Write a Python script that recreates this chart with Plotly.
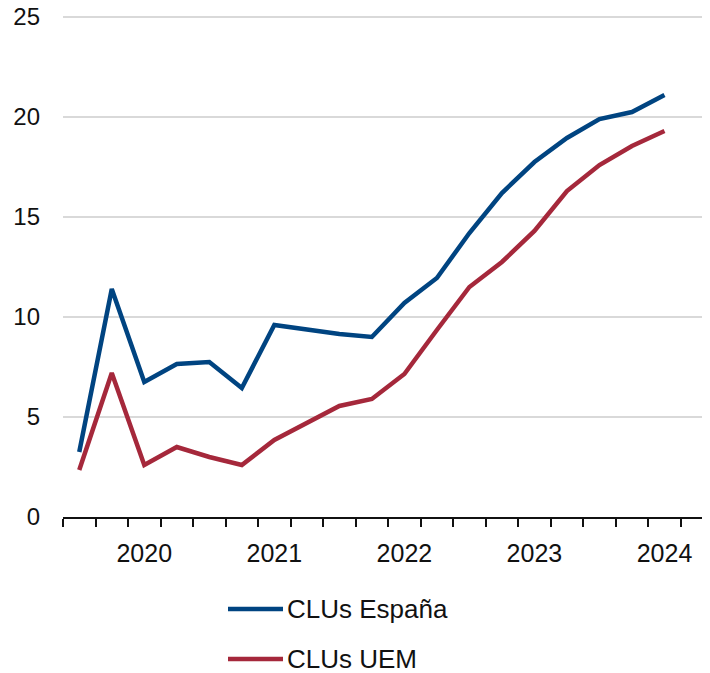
import plotly.graph_objects as go

# Trimestres 2019T3 - 2024T1
trimestres = ["2019T3", "2019T4", "2020T1", "2020T2", "2020T3", "2020T4",
              "2021T1", "2021T2", "2021T3", "2021T4", "2022T1", "2022T2",
              "2022T3", "2022T4", "2023T1", "2023T2", "2023T3", "2023T4", "2024T1"]
clus_espana = [3.25, 11.4, 6.75, 7.65, 7.75, 6.45, 9.6, 9.35, 9.15, 9.0,
               10.7, 11.95, 14.2, 16.2, 17.75, 18.95, 19.9, 20.25, 21.1]
clus_uem = [2.35, 7.2, 2.6, 3.5, 3.0, 2.6, 3.85, 4.7, 5.55, 5.9,
            7.15, 9.35, 11.5, 12.75, 14.3, 16.3, 17.6, 18.55, 19.3]
anios = ["2020", "2021", "2022", "2023", "2024"]
y_ticks = [0, 5, 10, 15, 20, 25]

AZUL = "#004481"
ROJO = "#a5283b"
FUENTE = "Liberation Sans, Arial, Helvetica, sans-serif"

x = list(range(len(trimestres)))
pos_anios = [trimestres.index(a + "T1") for a in anios]

fig = go.Figure()
fig.add_trace(go.Scatter(x=x, y=clus_espana, mode="lines", name="CLUs España",
                         line=dict(color=AZUL, width=4.5), showlegend=False))
fig.add_trace(go.Scatter(x=x, y=clus_uem, mode="lines", name="CLUs UEM",
                         line=dict(color=ROJO, width=4.5), showlegend=False))

# la página añade 8 px de margen al cuerpo: se compensa aquí
ALTO_PLOT = 503
fig.update_layout(
    width=702, height=665,
    margin=dict(l=55, r=0, t=665 - 156 - ALTO_PLOT, b=156),
    plot_bgcolor="white", paper_bgcolor="white",
    font=dict(family=FUENTE, size=25, color="#111111"),
)
fig.update_xaxes(
    range=[-0.5, 19.4],
    tickmode="array", tickvals=pos_anios, ticktext=anios,
    ticks="", showgrid=False, zeroline=False,
    showline=True, linecolor="#111111", linewidth=1.5,
    ticklabelstandoff=13, automargin=False,
    minor=dict(tickmode="linear", tick0=-0.5, dtick=1, ticks="outside",
               ticklen=8, tickwidth=1.5, tickcolor="#111111", showgrid=False),
)
fig.update_yaxes(
    range=[0, 25.15], tickvals=y_ticks, tickfont=dict(size=24),
    showgrid=True, gridcolor="#d9d9d9", gridwidth=1.5,
    zeroline=False, showline=False, ticks="",
    ticklabelstandoff=22, ticklabeloverflow="allow", automargin=False,
)

# leyenda (posiciones en coordenadas de papel respecto al área de trazado)
for i, (nombre, color) in enumerate([("CLUs España", AZUL), ("CLUs UEM", ROJO)]):
    yp = (517 - (609 + 50 * i)) / ALTO_PLOT
    fig.add_shape(type="line", xref="paper", yref="paper",
                  x0=(228 - 63) / 647, x1=(283 - 63) / 647, y0=yp, y1=yp,
                  line=dict(color=color, width=4.5))
    fig.add_annotation(xref="paper", yref="paper", x=(285 - 63) / 647, y=yp,
                       text=nombre, showarrow=False,
                       xanchor="left", yanchor="middle",
                       font=dict(family=FUENTE, size=26, color="#111111"))

fig.write_html("out.html")
